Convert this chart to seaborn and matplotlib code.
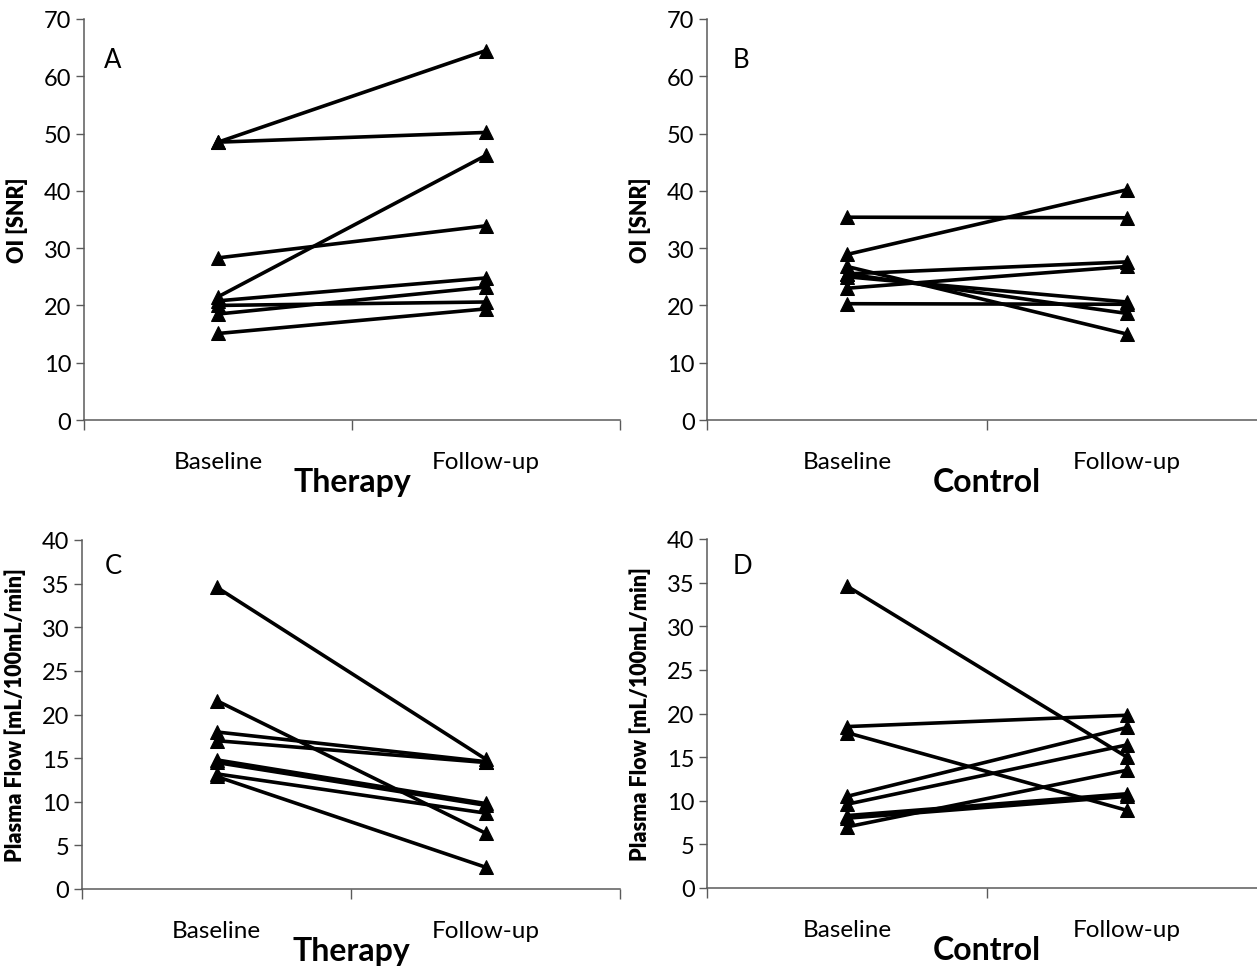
import matplotlib
matplotlib.use("Agg")
import matplotlib.pyplot as plt
import seaborn as sns
import pandas as pd

sns.set_theme(style="white")
plt.rcParams['font.family'] = ['Lato', 'DejaVu Sans']
plt.rcParams['text.color'] = 'black'
plt.rcParams['axes.labelcolor'] = 'black'

# ---- data ----
time_points = ["Baseline", "Follow-up"]

oi_therapy_baseline = [48.5, 48.5, 21.5, 28.3, 20.8, 18.5, 20.0, 15.1]
oi_therapy_followup = [64.5, 50.2, 46.2, 33.9, 24.8, 23.2, 20.6, 19.4]

oi_control_baseline = [35.4, 28.9, 20.3, 26.8, 23.0, 25.5, 25.0, 25.5]
oi_control_followup = [35.3, 40.2, 20.2, 15.0, 26.8, 27.6, 20.6, 18.6]

pf_therapy_baseline = [34.6, 21.6, 18.0, 17.0, 14.8, 14.5, 13.2, 12.9]
pf_therapy_followup = [14.9, 6.4, 14.6, 14.5, 9.8, 9.6, 8.7, 2.5]

pf_control_baseline = [34.6, 18.5, 17.8, 10.5, 9.6, 7.0, 8.3, 8.0]
pf_control_followup = [15.0, 19.8, 8.9, 18.4, 16.4, 13.5, 10.8, 10.5]

panels = [
    ("A", "Therapy", "OI [SNR]", oi_therapy_baseline, oi_therapy_followup, (0, 70), 10),
    ("B", "Control", "OI [SNR]", oi_control_baseline, oi_control_followup, (0, 70), 10),
    ("C", "Therapy", "Plasma Flow [mL/100mL/min]", pf_therapy_baseline, pf_therapy_followup, (0, 40), 5),
    ("D", "Control", "Plasma Flow [mL/100mL/min]", pf_control_baseline, pf_control_followup, (0, 40), 5),
]

W, H = 1257, 970
fig = plt.figure(figsize=(W / 100, H / 100), dpi=100)

# axes boxes in pixels: left, top(pixel of ymax), right, bottom(pixel of 0); letter position
boxes = [
    ((84, 20, 620, 421), (104, 61)),
    ((707, 20, 1267, 421), (733, 61)),
    ((82, 541, 620, 890), (105, 567)),
    ((707, 540, 1267, 889), (733, 567)),
]

axis_col = "#5a5a5a"

for (letter, group, ylab, base, fol, ylim, step), ((l, t, r, b), (lx, ly)) in zip(panels, boxes):
    ax = fig.add_axes([l / W, (H - b) / H, (r - l) / W, (b - t) / H])
    rows = []
    for i, (v0, v1) in enumerate(zip(base, fol)):
        rows.append({"subject": i, "x": 0.5, "value": v0})
        rows.append({"subject": i, "x": 1.5, "value": v1})
    df = pd.DataFrame(rows)
    sns.lineplot(data=df, x="x", y="value", units="subject", estimator=None,
                 color="black", linewidth=2.6, marker="^", markersize=10,
                 markeredgecolor="black", ax=ax, legend=False)
    ax.set_xlim(0, 2)
    ax.set_ylim(*ylim)
    ax.set_yticks(list(range(ylim[0], ylim[1] + 1, step)))
    ax.tick_params(axis="y", which="major", direction="out", length=6, width=1,
                   color=axis_col, labelcolor="black", labelsize=17, pad=3, left=True)
    ax.set_xticks([0, 1, 2])
    ax.set_xticklabels(["", "", ""])
    ax.set_xticks([0.5, 1.5], minor=True)
    ax.set_xticklabels(time_points, minor=True)
    ax.tick_params(axis="x", which="major", direction="out", length=7, width=1,
                   color=axis_col, bottom=True)
    ax.tick_params(axis="x", which="minor", length=0, labelsize=17.5, pad=22,
                   labelcolor="black")
    for s in ["top", "right"]:
        ax.spines[s].set_visible(False)
    for s in ["left", "bottom"]:
        ax.spines[s].set_color(axis_col)
        ax.spines[s].set_linewidth(1.1)
    ax.set_xlabel(group, fontsize=23, fontweight="bold", va="top")
    ax.xaxis.set_label_coords(0.5, -47 / (b - t))
    ax.set_ylabel(ylab, fontsize=15.5, fontweight="heavy")
    ax.yaxis.set_label_coords(-56 / (r - l), 0.5)
    ax.text((lx - l) / (r - l), 1 - (ly - t) / (b - t), letter, transform=ax.transAxes,
            fontsize=18.5, ha="left", va="center")
    ax.set_facecolor("white")

fig.savefig("out.png", dpi=100, facecolor="white")
